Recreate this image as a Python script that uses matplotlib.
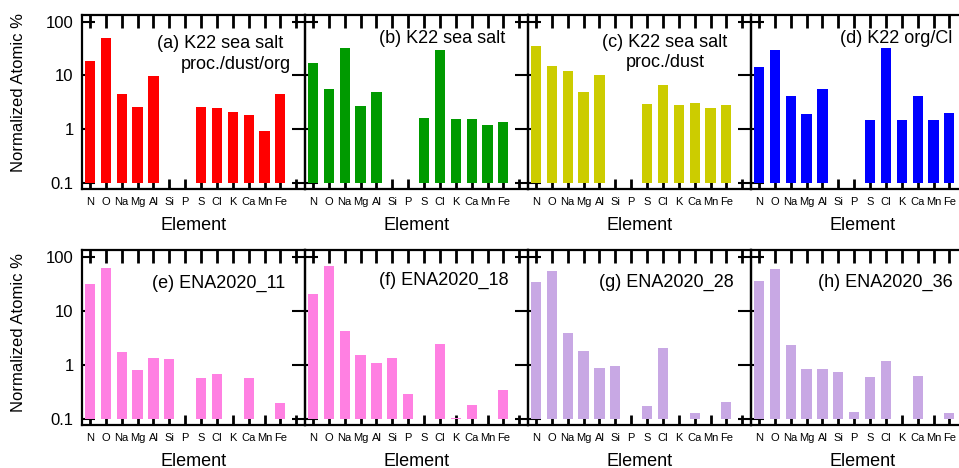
import matplotlib
matplotlib.use("Agg")
import matplotlib.pyplot as plt
import numpy as np
from matplotlib.ticker import NullLocator

plt.rcParams['font.family'] = ['Liberation Sans', 'DejaVu Sans']

nan = np.nan
elements = ["N", "O", "Na", "Mg", "Al", "Si", "P", "S", "Cl", "K", "Ca", "Mn", "Fe"]

# Normalized atomic percentages per element (NaN = not present)
k22_seasalt_proc_dust_org = [18.5, 48.9, 4.49, 2.53, 9.86, nan, nan, 2.61, 2.50, 2.10, 1.80, 0.93, 4.49]
k22_seasalt = [16.7, 5.56, 31.8, 2.72, 4.82, nan, nan, 1.58, 29.6, 1.51, 1.51, 1.20, 1.37]
k22_seasalt_proc_dust = [35.2, 14.9, 12.2, 4.82, 10.0, nan, nan, 2.97, 6.51, 2.84, 3.10, 2.46, 2.84]
k22_org_cl = [14.3, 29.6, 4.18, 1.93, 5.56, nan, nan, 1.49, 31.8, 1.45, 4.18, 1.45, 1.99]
ena2020_11 = [31.0, 61.5, 1.70, 0.81, 1.33, 1.28, nan, 0.556, 0.66, nan, 0.57, nan, 0.196]
ena2020_18 = [20.4, 67.0, 4.12, 1.49, 1.07, 1.35, 0.28, nan, 2.36, 0.103, 0.18, nan, 0.333]
ena2020_28 = [33.7, 54.8, 3.89, 1.82, 0.855, 0.93, nan, 0.172, 2.07, nan, 0.126, nan, 0.207]
ena2020_36 = [34.7, 58.0, 2.26, 0.84, 0.83, 0.73, 0.135, 0.60, 1.17, nan, 0.62, nan, 0.126]

panel_titles = [
    ["(a) K22 sea salt", "proc./dust/org"],
    ["(b) K22 sea salt"],
    ["(c) K22 sea salt", "proc./dust"],
    ["(d) K22 org/Cl"],
    ["(e) ENA2020_11"],
    ["(f) ENA2020_18"],
    ["(g) ENA2020_28"],
    ["(h) ENA2020_36"],
]
series = [k22_seasalt_proc_dust_org, k22_seasalt, k22_seasalt_proc_dust, k22_org_cl,
          ena2020_11, ena2020_18, ena2020_28, ena2020_36]
colors = ["#ff0000", "#009a00", "#cccc00", "#0000ff",
          "#ff80e2", "#ff80e2", "#c8a8e4", "#c8a8e4"]

W, H = 959, 468
fig = plt.figure(figsize=(W / 100, H / 100), dpi=100)

lefts = [82, 305, 528, 751]
pw = 223
rows = [(15, 189), (250, 425)]
baseline = 0.1

# title placement (right edge x, baseline y) in pixels
title_pos = [
    [(283, 48), (291, 69)],
    [(505, 43)],
    [(727, 47), (705, 67)],
    [(952, 43)],
    [(285, 288)],
    [(509, 285)],
    [(734, 287)],
    [(953, 287)],
]

x = np.arange(len(elements))
for i, vals in enumerate(series):
    r, c = divmod(i, 4)
    top, bot = rows[r]
    ax = fig.add_axes([lefts[c] / W, 1 - bot / H, pw / W, (bot - top) / H])
    ax.set_facecolor("none")
    v = np.array(vals, dtype=float)
    m = ~np.isnan(v)
    # bars rise from the 0.1 level and sit above the tick marks
    ax.bar(x[m], v[m] - baseline, bottom=baseline, width=0.64,
           color=colors[i], edgecolor="none", zorder=3)
    ax.set_yscale("log")
    ax.set_ylim(0.076, 133)
    ax.set_xlim(-0.5, 13.55)
    ax.set_yticks([0.1, 1, 10, 100])
    ax.yaxis.set_minor_locator(NullLocator())
    ax.xaxis.set_minor_locator(NullLocator())
    ax.set_xticks(np.arange(14))
    ax.set_xticklabels(elements + [""], fontsize=8)
    if c == 0:
        ax.set_yticklabels(["0.1", "1", "10", "100"], fontsize=12)
    else:
        ax.set_yticklabels([])
    ax.xaxis.set_ticks_position("both")
    ax.yaxis.set_ticks_position("both")
    ax.tick_params(axis="y", which="major", direction="in", length=9.5, width=1.5,
                   color="black", pad=6)
    ax.tick_params(axis="x", which="major", direction="in", length=9, width=2.0,
                   color="black", labeltop=False, labelbottom=True, pad=6)
    for t in ax.xaxis.get_major_ticks():
        t.tick1line.set_markersize(7)
    for s in ax.spines.values():
        s.set_linewidth(1.6)
        s.set_zorder(4)
    for (tx, ty), txt in zip(title_pos[i], panel_titles[i]):
        fig.text(tx / W, 1 - ty / H, txt, ha="right", va="baseline", fontsize=13)
    fig.text((lefts[c] + pw / 2) / W, 1 - (bot + 36) / H, "Element",
             ha="center", va="center", fontsize=13)

fig.text(19 / W, 1 - 93 / H, "Normalized Atomic %", rotation=90,
         ha="center", va="center", fontsize=12)
fig.text(19 / W, 1 - 333 / H, "Normalized Atomic %", rotation=90,
         ha="center", va="center", fontsize=12)

fig.savefig("out.png", dpi=100)
